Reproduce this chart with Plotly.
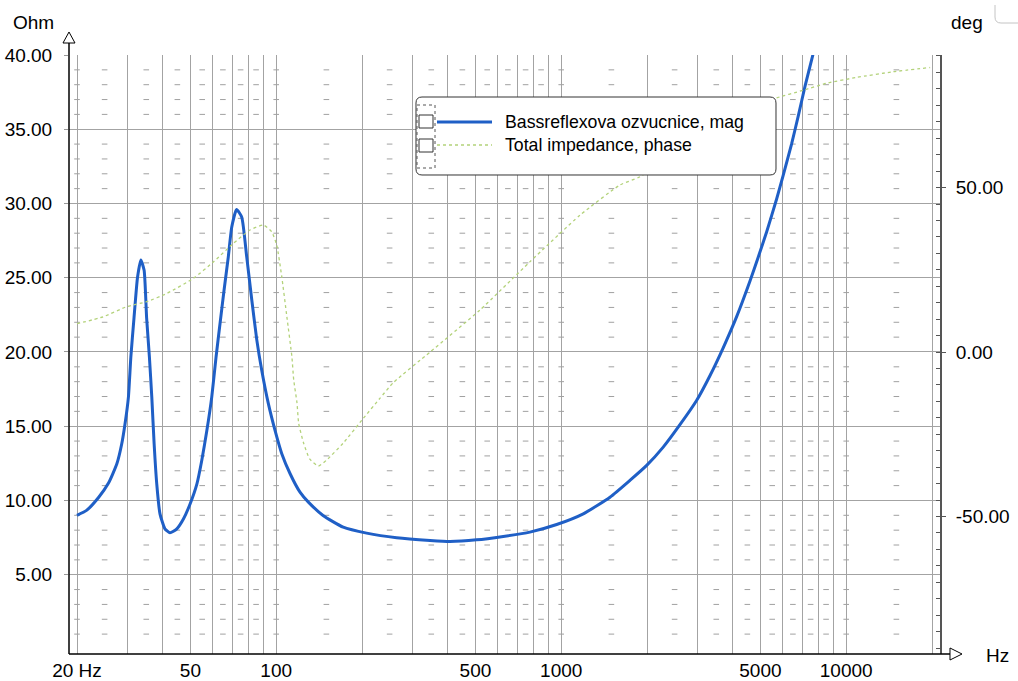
import plotly.graph_objects as go

# ---------------- data ----------------
freq_mag = [20.0, 21.6, 23.8, 25.8, 27.6, 28.7, 29.5, 30.3, 30.9, 31.7, 32.6, 33.5, 34.4, 35.1,
            35.9, 36.6, 37.3, 38.1, 39.1, 40.7, 42.4, 44.8, 47.3, 49.9, 52.7, 54.8, 57.1, 59.4,
            61.5, 63.5, 65.6, 67.9, 69.8, 72.6, 75.7, 78.8, 82.1, 85.5, 89.0, 93.9, 99.1, 104.6,
            111.9, 121.2, 129.7, 146, 171.8, 207.6, 264.7, 346.6, 407, 505, 626, 776, 964, 1195,
            1483, 1742, 1995, 2280, 2610, 2985, 3325, 3705, 4130, 4600, 4915, 5260, 5700, 6010,
            6430, 6790, 7170, 7660]
mag_ohm = [9.0, 9.33, 10.2, 11.17, 12.47, 13.8, 15.2, 16.96, 19.65, 22.3, 25.0, 26.2, 25.5, 22.3,
           19.65, 16.96, 13.8, 11.1, 9.1, 8.09, 7.82, 8.09, 8.77, 9.78, 11.12, 12.69, 14.71, 16.96,
           19.65, 21.9, 24.14, 26.4, 28.4, 29.6, 29.08, 26.4, 23.5, 20.8, 18.75, 16.5, 14.7, 13.15,
           11.8, 10.56, 9.89, 8.99, 8.2, 7.8, 7.49, 7.31, 7.24, 7.35, 7.58, 7.87, 8.38, 9.1,
           10.22, 11.35, 12.36, 13.59, 15.1, 16.73, 18.4, 20.3, 22.4, 24.8, 26.4, 28.1, 30.3, 31.9,
           34.0, 35.9, 37.9, 40.1]

freq_phase = [20, 24.7, 29.9, 35.1, 41.3, 51.2, 60.2, 70.7, 80.9, 90.2, 96.4, 100.4, 104.6, 109.0,
              113.5, 115.2, 118.3, 119.9, 124.6, 131, 140.7, 150.4, 171.8, 202, 231, 257.6, 346.6,
              519, 776, 1164, 1609, 1890, 3070, 4240, 5620, 7070, 8530, 10900, 14600, 19700]
phase_deg = [8.6, 10.7, 13.8, 15.3, 17.8, 22.4, 27.4, 33.0, 37.1, 38.6, 36.6, 32.5, 22.9, 10.7,
             -1.4, -8.5, -15.5, -21.7, -27.5, -32.5, -34.65, -32.8, -27.7, -20.2, -14.1, -9.3, 0.0,
             12.8, 27.4, 41.6, 50.8, 53.3, 67.0, 73.0, 77.1, 79.6, 81.7, 83.5, 85.2, 86.5]

grid_hz = [20, 30, 40, 50, 60, 70, 80, 90, 100, 200, 300, 400, 500, 600, 700, 800, 900,
           1000, 2000, 3000, 4000, 5000, 6000, 7000, 8000, 9000, 10000, 20000]
x_labels = {20: "20 Hz", 50: "50", 100: "100", 500: "500", 1000: "1000", 5000: "5000", 10000: "10000"}
ohm_ticks = [5, 10, 15, 20, 25, 30, 35, 40]
deg_ticks = [-50, 0, 50]

series_names = ["Bassreflexova ozvucnice, mag", "Total impedance, phase"]

# ---------------- layout geometry ----------------
W, H = 1018, 681
L, R, T, B = 69, 78, 55, 27
PW, PH = W - L - R, H - T - B
FONT = "Liberation Sans, Arial, sans-serif"
BLUE = "#1f5fc6"
GREEN = "#b3d27a"
GRID = "#a3a3a3"


def px(x):
    return (x - L) / PW


def py(y):
    return (H - B - y) / PH


def path(points, close=False):
    s = "M " + " L ".join(f"{px(x):.5f},{py(y):.5f}" for x, y in points)
    return s + (" Z" if close else "")


def rrect(x0, y0, x1, y1, r):
    p = lambda x, y: f"{px(x):.5f},{py(y):.5f}"
    return (f"M {p(x0 + r, y0)} L {p(x1 - r, y0)} Q {p(x1, y0)} {p(x1, y0 + r)} "
            f"L {p(x1, y1 - r)} Q {p(x1, y1)} {p(x1 - r, y1)} L {p(x0 + r, y1)} "
            f"Q {p(x0, y1)} {p(x0, y1 - r)} L {p(x0, y0 + r)} Q {p(x0, y0)} {p(x0 + r, y0)} Z")


# minor grid dashes: midpoints of each grid interval plus decade lines, every 1 Ohm
dash_x = []
for d in [10, 100, 1000, 10000]:
    for m in [1.5, 2.5, 3.5, 4.5, 5.5, 6.5, 7.5, 8.5]:
        v = m * d
        if 20 <= v <= 20000:
            dash_x.append(v)
dash_x += [20, 100, 1000, 10000]
dash_y = [v for v in range(1, 40) if v % 5 != 0]
gx, gy = [], []
for yv in dash_y:
    for xv in dash_x:
        gx.append(xv)
        gy.append(yv)

fig = go.Figure()
fig.add_trace(go.Scatter(x=gx, y=gy, mode="markers", hoverinfo="skip", showlegend=False,
                         marker=dict(symbol="line-ew", size=4, line=dict(width=1, color="#a0a0a0"))))
fig.add_trace(go.Scatter(x=freq_phase, y=phase_deg, yaxis="y2", mode="lines", name=series_names[1],
                         line=dict(color=GREEN, width=1.3, dash="3px,3px", shape="spline", smoothing=0.5),
                         showlegend=False))
fig.add_trace(go.Scatter(x=freq_mag, y=mag_ohm, mode="lines", name=series_names[0],
                         line=dict(color=BLUE, width=3, shape="spline", smoothing=0.5),
                         showlegend=False))

shapes = []
# bottom axis with arrow
shapes.append(dict(type="line", xref="paper", yref="paper", x0=0, x1=px(951), y0=0, y1=0,
                   line=dict(color="black", width=1.5)))
shapes.append(dict(type="path", xref="paper", yref="paper",
                   path=path([(950, 648), (962, 654), (950, 660)], close=True),
                   fillcolor="white", line=dict(color="black", width=1)))
# left axis with arrow
shapes.append(dict(type="line", xref="paper", yref="paper", x0=0, x1=0, y0=0, y1=py(43),
                   line=dict(color="black", width=1.5)))
shapes.append(dict(type="path", xref="paper", yref="paper",
                   path=path([(63, 43), (69, 32), (75, 43)], close=True),
                   fillcolor="white", line=dict(color="black", width=1)))
# window corner decoration top right
shapes.append(dict(type="path", xref="paper", yref="paper",
                   path=f"M {px(995):.5f},{py(5):.5f} L {px(995):.5f},{py(17):.5f} "
                        f"Q {px(995):.5f},{py(23):.5f} {px(1001):.5f},{py(23):.5f} L {px(1018):.5f},{py(23):.5f}",
                   line=dict(color="#c4c4c4", width=1)))
# legend box
shapes.append(dict(type="path", xref="paper", yref="paper", layer="above",
                   path=rrect(416, 97, 776, 175, 6), fillcolor="white", line=dict(color="#333333", width=1)))
shapes.append(dict(type="rect", xref="paper", yref="paper", layer="above",
                   x0=px(417), x1=px(435), y0=py(168), y1=py(105),
                   line=dict(color="#555555", width=1, dash="dot")))
for y0, y1 in [(115, 128), (139, 152)]:
    shapes.append(dict(type="rect", xref="paper", yref="paper", layer="above",
                       x0=px(419), x1=px(433), y0=py(y1), y1=py(y0),
                       fillcolor="white", line=dict(color="#333333", width=1)))
shapes.append(dict(type="line", xref="paper", yref="paper", layer="above",
                   x0=px(437), x1=px(492), y0=py(122), y1=py(122), line=dict(color=BLUE, width=3)))
shapes.append(dict(type="line", xref="paper", yref="paper", layer="above",
                   x0=px(437), x1=px(492), y0=py(145), y1=py(145),
                   line=dict(color=GREEN, width=1.3, dash="3px,3px")))

annotations = []
def label(text, x, y, size=19, xanchor="center"):
    annotations.append(dict(text=text, xref="paper", yref="paper", x=px(x), y=py(y), showarrow=False,
                            xanchor=xanchor, yanchor="middle", font=dict(family=FONT, size=size, color="black")))

label("Ohm", 33, 22)
label("deg", 967, 22)
label("Hz", 997, 655)
label(series_names[0], 503, 122, size=17.7, xanchor="left")
label(series_names[1], 503, 145, size=17.7, xanchor="left")

x_lo = 1.30103 - (77 - L) / 285.0
x_hi = 1.30103 + (L + PW - 77) / 285.0

fig.update_layout(
    template="none",
    width=W, height=H,
    margin=dict(l=L, r=R, t=T, b=B, pad=0, autoexpand=False),
    paper_bgcolor="white", plot_bgcolor="white",
    font=dict(family=FONT, size=19, color="black"),
    showlegend=False,
    shapes=shapes,
    annotations=annotations,
    xaxis=dict(type="log", range=[x_lo, x_hi], showline=False, zeroline=False, automargin=False,
               showgrid=True, gridcolor=GRID, gridwidth=1,
               tickmode="array", tickvals=grid_hz,
               ticktext=[x_labels.get(v, "") for v in grid_hz],
               ticks="", ticklabelstandoff=3, tickfont=dict(size=19, color="black")),
    yaxis=dict(range=[-0.34, 40], showline=False, zeroline=False, automargin=False,
               showgrid=True, gridcolor=GRID, gridwidth=1,
               tickmode="array", tickvals=ohm_ticks, ticktext=[f"{v:.2f}" for v in ohm_ticks],
               ticks="outside", ticklen=4, tickcolor="#999999", ticklabelstandoff=8,
               tickfont=dict(size=19, color="black")),
    yaxis2=dict(overlaying="y", side="right", range=[-91.8, 90.3], showgrid=False, zeroline=False,
                automargin=False, showline=True, linecolor="#555555", linewidth=2,
                tickmode="array", tickvals=deg_ticks, ticktext=[f"{v:.2f}" for v in deg_ticks],
                ticks="outside", ticklen=4, tickcolor="#555555", ticklabelstandoff=6,
                minor=dict(tickmode="linear", tick0=0, dtick=5, ticks="inside", ticklen=4,
                           tickcolor="#555555", showgrid=False),
                tickfont=dict(size=19, color="black")),
)

fig.write_html("out.html", config={"displayModeBar": False},
               post_script="document.body.style.margin='0';document.body.style.overflow='hidden';")
